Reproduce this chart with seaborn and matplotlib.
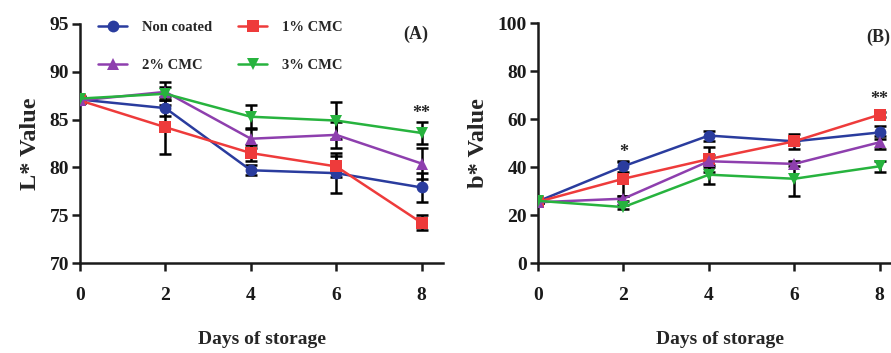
import numpy as np
import pandas as pd
import matplotlib
matplotlib.use("Agg")
import matplotlib.pyplot as plt
import seaborn as sns

days = [0, 2, 4, 6, 8]
groups = ["Non coated", "1% CMC", "2% CMC", "3% CMC"]

# L* value (panel A)
L_non = [87.1, 86.2, 79.7, 79.4, 77.9]
L_1 = [87.0, 84.2, 81.5, 80.1, 74.2]
L_2 = [87.0, 87.9, 83.0, 83.4, 80.4]
L_3 = [87.2, 87.7, 85.3, 84.9, 83.6]
L_non_sd = [0.3, 0.8, 0.5, 2.1, 1.5]
L_1_sd = [0.3, 2.8, 0.8, 1.1, 0.8]
L_2_sd = [0.3, 0.5, 1.0, 1.4, 1.6]
L_3_sd = [0.3, 1.2, 1.2, 1.9, 1.1]

# b* value (panel B)
b_non = [25.7, 40.3, 53.1, 50.7, 54.4]
b_1 = [25.5, 35.1, 43.3, 50.7, 61.8]
b_2 = [25.3, 26.8, 42.4, 41.3, 50.3]
b_3 = [25.9, 23.3, 36.8, 35.1, 40.3]
b_non_sd = [0.5, 2.3, 2.1, 1.0, 2.8]
b_1_sd = [0.5, 7.1, 5.2, 3.0, 1.0]
b_2_sd = [0.5, 1.0, 2.4, 1.0, 2.8]
b_3_sd = [0.5, 1.0, 3.9, 7.1, 2.4]

COLORS = ["#2a3c9e", "#ee3b3b", "#8e3fae", "#27b33e"]
MARKERS = ["o", "s", "^", "v"]
SERIF = ["Liberation Serif", "DejaVu Serif"]


def _long(vals, sds):
    rows = []
    for g, v, s in zip(groups, vals, sds):
        for d, y, e in zip(days, v, s):
            rows.append({"day": d, "value": y, "sd": e, "group": g})
    return pd.DataFrame(rows)


dfA = _long([L_non, L_1, L_2, L_3], [L_non_sd, L_1_sd, L_2_sd, L_3_sd])
dfB = _long([b_non, b_1, b_2, b_3], [b_non_sd, b_1_sd, b_2_sd, b_3_sd])

sns.set_theme(style="ticks")
plt.rcParams["font.family"] = SERIF
plt.rcParams["font.weight"] = "bold"

fig = plt.figure(figsize=(8.91, 3.53), dpi=100)
W, H = 891, 353
axA = fig.add_axes([80 / W, 1 - 263 / H, 363 / W, 239 / H])
axB = fig.add_axes([538 / W, 1 - 263 / H, 363 / W, 240 / H])


def _panel(ax, df, ylim, yticks, ylabel):
    for g, col in zip(groups, COLORS):
        sub = df[df["group"] == g]
        ax.errorbar(sub["day"], sub["value"], yerr=sub["sd"], fmt="none",
                    ecolor="black", elinewidth=1.8, capsize=4.5,
                    capthick=1.8, zorder=2)
    sns.lineplot(data=df, x="day", y="value", hue="group", style="group",
                 hue_order=groups, style_order=groups, palette=COLORS,
                 markers=MARKERS, dashes=False, markersize=8.5, linewidth=1.8,
                 markeredgewidth=0, errorbar=None, ax=ax, zorder=3,
                 legend=True)
    ax.set_xlim(0, 8.5)
    ax.set_ylim(*ylim)
    ax.set_xticks(days)
    ax.set_yticks(yticks)
    sns.despine(ax=ax)
    for s in ("left", "bottom"):
        ax.spines[s].set_linewidth(1.8)
        ax.spines[s].set_color("#1a1a1a")
    ax.tick_params(axis="both", direction="out", length=6, width=1.8,
                   labelsize=14, colors="#1a1a1a")
    ax.tick_params(axis="x", pad=11)
    ax.tick_params(axis="y", pad=2)
    for t in ax.get_xticklabels() + ax.get_yticklabels():
        t.set_fontweight("bold")
    ax.set_ylabel(ylabel, fontsize=17.5, fontweight="bold", labelpad=6)
    ax.set_xlabel("Days of storage", fontsize=14, fontweight="bold",
                  labelpad=20)


_panel(axA, dfA, (70, 95), [70, 75, 80, 85, 90, 95], "L* Value")
_panel(axB, dfB, (0, 100), [0, 20, 40, 60, 80, 100], "b* Value")

# legend rows: Non coated / 1% CMC on top, 2% / 3% CMC below
handles, labels = axA.get_legend_handles_labels()
order = [0, 2, 1, 3]
axA.legend([handles[i] for i in order], [labels[i] for i in order],
           ncol=2, loc="upper left", bbox_to_anchor=(0.05, 1.015),
           frameon=False, borderaxespad=0, borderpad=0, handlelength=2.0,
           handletextpad=1.0, columnspacing=1.8, labelspacing=1.7,
           prop={"family": SERIF, "weight": "bold", "size": 10.5})
axB.get_legend().remove()

axA.text(0.96, 0.995, "(A)", transform=axA.transAxes, ha="right", va="top",
         fontsize=13, fontweight="bold")
axB.text(0.905, 0.975, "(B)", transform=axB.transAxes, ha="left", va="top",
         fontsize=13, fontweight="bold")
axA.text(8, 85.6, "**", ha="center", va="center", fontsize=13)
axB.text(2, 46, "*", ha="center", va="center", fontsize=13)
axB.text(8, 68, "**", ha="center", va="center", fontsize=13)

fig.savefig("out.png", dpi=100)
